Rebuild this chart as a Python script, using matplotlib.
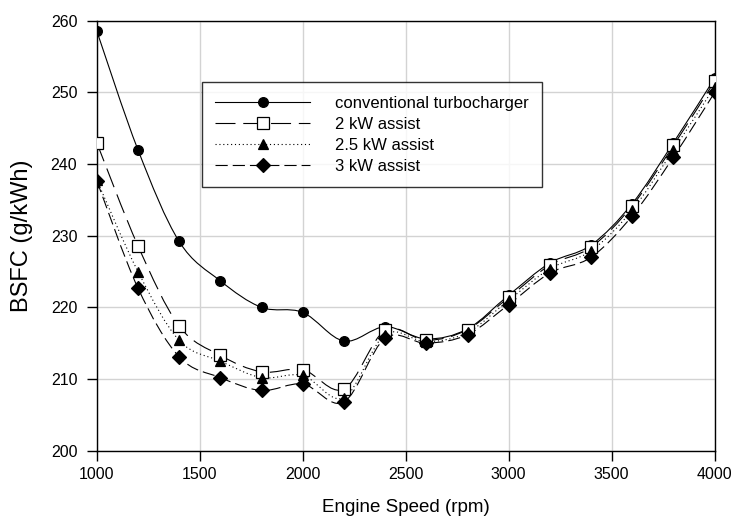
import numpy as np
import matplotlib
matplotlib.use("Agg")
import matplotlib.pyplot as plt
from matplotlib.path import Path
from matplotlib.patches import PathPatch
from matplotlib.lines import Line2D

plt.rcParams["font.family"] = ["Liberation Sans", "DejaVu Sans"]

# Dados
rpm = [1000, 1200, 1400, 1600, 1800, 2000, 2200, 2400, 2600, 2800,
       3000, 3200, 3400, 3600, 3800, 4000]
bsfc_conv = [258.6, 242.0, 229.2, 223.7, 220.0, 219.3, 215.3, 217.3, 215.6, 217.0,
             221.7, 226.2, 228.7, 234.5, 243.0, 252.0]
bsfc_2kw = [243.0, 228.6, 217.4, 213.3, 211.0, 211.3, 208.6, 216.8, 215.4, 216.9,
            221.4, 225.9, 228.4, 234.2, 242.6, 251.6]
bsfc_25kw = [237.8, 225.0, 215.4, 212.5, 210.2, 210.5, 207.4, 216.2, 215.2, 216.5,
             221.0, 225.4, 227.9, 233.6, 242.0, 250.8]
bsfc_3kw = [237.7, 222.7, 213.1, 210.2, 208.4, 209.3, 206.8, 215.7, 215.0, 216.2,
            220.4, 224.8, 227.0, 232.8, 241.0, 250.0]

labels = ["conventional turbocharger", "2 kW assist", "2.5 kW assist", "3 kW assist"]


def curva_suave(x, y):
    # caminho Bezier (Catmull-Rom) passando pelos pontos
    x = np.asarray(x, float)
    y = np.asarray(y, float)
    verts = [(x[0], y[0])]
    codes = [Path.MOVETO]
    n = len(x)
    for i in range(n - 1):
        x0, y0 = (x[i - 1], y[i - 1]) if i > 0 else (x[i], y[i])
        x3, y3 = (x[i + 2], y[i + 2]) if i + 2 < n else (x[i + 1], y[i + 1])
        c1 = (x[i] + (x[i + 1] - x0) / 6, y[i] + (y[i + 1] - y0) / 6)
        c2 = (x[i + 1] - (x3 - x[i]) / 6, y[i + 1] - (y3 - y[i]) / 6)
        verts += [c1, c2, (x[i + 1], y[i + 1])]
        codes += [Path.CURVE4] * 3
    return Path(verts, codes)


fig = plt.figure(figsize=(7.33, 5.21), dpi=100)
ax = fig.add_axes([0.132, 0.135, 0.843, 0.825])

estilos = [
    dict(ls="-", marker="o", mfc="black", ms=7),
    dict(ls=(0, (18, 7)), marker="s", mfc="white", ms=8),
    dict(ls=(0, (1, 2.5)), marker="^", mfc="black", ms=7.5),
    dict(ls=(0, (11, 4.5)), marker="D", mfc="black", ms=7.5),
]
series = [bsfc_conv, bsfc_2kw, bsfc_25kw, bsfc_3kw]

handles = []
for serie, est, lab in zip(series, estilos, labels):
    patch = PathPatch(curva_suave(rpm, serie), facecolor="none", edgecolor="black",
                      lw=0.8, linestyle=est["ls"], zorder=3)
    ax.add_patch(patch)
    ax.plot(rpm, serie, ls="none", marker=est["marker"], mfc=est["mfc"], mec="black",
            ms=est["ms"], mew=0.9, zorder=4)
    handles.append(Line2D([], [], color="black", lw=0.8, ls=est["ls"], marker=est["marker"],
                          mfc=est["mfc"], mec="black", ms=est["ms"], mew=0.9))

ax.set_xlim(1000, 4000)
ax.set_ylim(200, 260)
ax.set_xticks(range(1000, 4001, 500))
ax.set_yticks(range(200, 261, 10))
ax.grid(True, color="#d3d3d3", lw=1.0)
ax.set_axisbelow(True)
ax.tick_params(direction="out", length=7, width=1, labelsize=11.5, colors="black")
ax.tick_params(axis="y", pad=7)
ax.tick_params(axis="x", pad=5)
for s in ax.spines.values():
    s.set_linewidth(1.0)

ax.set_xlabel("Engine Speed (rpm)", fontsize=13.5, labelpad=12)
ax.set_ylabel("BSFC (g/kWh)", fontsize=17, labelpad=13)

leg = ax.legend(handles, labels, loc="upper left", bbox_to_anchor=(0.170, 0.857),
                borderaxespad=0, frameon=True, fancybox=False, edgecolor="black",
                fontsize=12, handlelength=5.7, handletextpad=1.5, labelspacing=0.36,
                borderpad=0.8)
leg.get_frame().set_linewidth(1.0)

fig.savefig("out.png", dpi=100)
